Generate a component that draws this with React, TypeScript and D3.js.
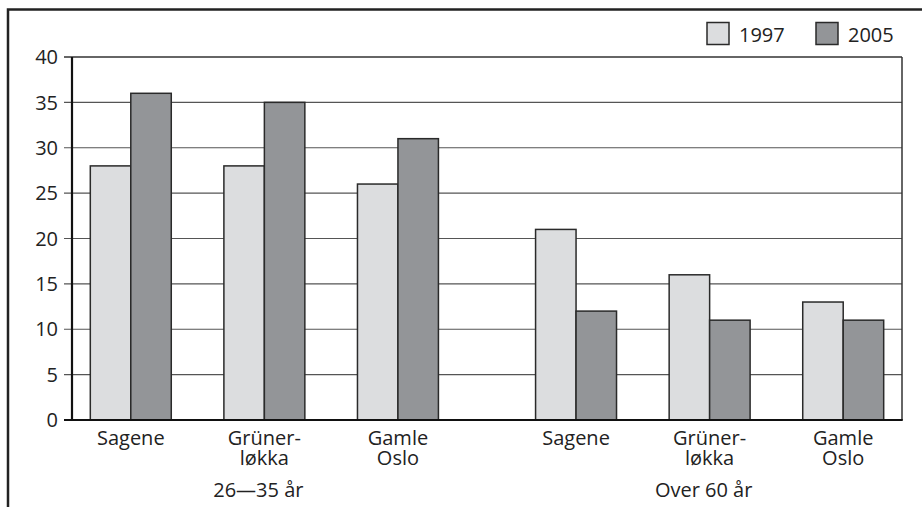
import React, { useRef, useEffect } from 'react'
import * as d3 from 'd3'

const groups = ['26\u201435 år', 'Over 60 år']
const districts = ['Sagene', 'Grüner-\nløkka', 'Gamle\nOslo']
const years = ['1997', '2005']
const values1997 = [28, 28, 26, 21, 16, 13]
const values2005 = [36, 35, 31, 12, 11, 11]
const yTicks = [0, 5, 10, 15, 20, 25, 30, 35, 40]

const colors = ['#dcdddf', '#939598']
const font = '"Open Sans", "DejaVu Sans", sans-serif'

const App = () => {
    const svgRef = useRef(null)

    useEffect(() => {
        const w = 922
        const h = 507
        const left = 72
        const right = 902
        const top = 57
        const bottom = 420

        const svg = d3.select(svgRef.current)
            .attr('width', w)
            .attr('height', h)
        svg.selectAll('*').remove()

        // frame round the whole figure (cut off at right and bottom)
        svg.append('rect')
            .attr('x', 8).attr('y', 9.5)
            .attr('width', w + 20).attr('height', h + 20)
            .attr('fill', 'white')
            .attr('stroke', '#222')
            .attr('stroke-width', 2.5)

        // scales
        const yScale = d3.scaleLinear().domain([0, 40]).range([bottom, top])
        const x0 = d3.scaleBand().domain(groups).range([64, 910]).paddingInner(0.1)
        const x1 = d3.scaleBand().domain(districts).range([0, x0.bandwidth()])
        const x2 = d3.scaleBand().domain(years).range([0, x1.bandwidth()]).paddingOuter(0.65)

        // grid lines
        svg.append('g')
            .selectAll('line')
            .data(yTicks.filter(t => t > 0))
            .join('line')
            .attr('x1', left - 8).attr('x2', right)
            .attr('y1', d => yScale(d)).attr('y2', d => yScale(d))
            .attr('stroke', d => d === 40 ? '#333' : '#555')
            .attr('stroke-width', d => d === 40 ? 1.5 : 1.2)

        // right edge of plot
        svg.append('line')
            .attr('x1', right).attr('x2', right)
            .attr('y1', top).attr('y2', bottom)
            .attr('stroke', '#333').attr('stroke-width', 1.5)

        // y tick labels
        svg.append('g')
            .selectAll('text')
            .data(yTicks)
            .join('text')
            .attr('x', left - 14)
            .attr('y', d => yScale(d))
            .attr('dy', '0.36em')
            .attr('text-anchor', 'end')
            .style('font-family', font)
            .style('font-size', '20px')
            .attr('fill', '#222')
            .text(d => d)

        // bars
        const rows = []
        groups.forEach((g, gi) => {
            districts.forEach((d, di) => {
                const i = gi * districts.length + di
                rows.push({ g, d, year: '1997', v: values1997[i], c: colors[0] })
                rows.push({ g, d, year: '2005', v: values2005[i], c: colors[1] })
            })
        })
        svg.append('g')
            .selectAll('rect')
            .data(rows)
            .join('rect')
            .attr('x', r => x0(r.g) + x1(r.d) + x2(r.year))
            .attr('y', r => yScale(r.v))
            .attr('width', x2.bandwidth())
            .attr('height', r => yScale(0) - yScale(r.v))
            .attr('fill', r => r.c)
            .attr('stroke', '#2a2a2a')
            .attr('stroke-width', 1.5)

        // axes lines
        svg.append('line')
            .attr('x1', left).attr('x2', left)
            .attr('y1', top).attr('y2', bottom)
            .attr('stroke', '#111').attr('stroke-width', 2.2)
        svg.append('line')
            .attr('x1', left - 8).attr('x2', right + 0.75)
            .attr('y1', bottom).attr('y2', bottom)
            .attr('stroke', '#111').attr('stroke-width', 2)

        // category labels
        groups.forEach(g => {
            districts.forEach(d => {
                const cx = x0(g) + x1(d) + x1.bandwidth() / 2
                const t = svg.append('text')
                    .attr('text-anchor', 'middle')
                    .style('font-family', font)
                    .style('font-size', '20px')
                    .attr('fill', '#222')
                d.split('\n').forEach((line, li) => {
                    t.append('tspan')
                        .attr('x', cx)
                        .attr('y', 445 + li * 20)
                        .text(line)
                })
            })
            svg.append('text')
                .attr('x', x0(g) + x0.bandwidth() / 2 - 6)
                .attr('y', 497)
                .attr('text-anchor', 'middle')
                .style('font-family', font)
                .style('font-size', '20px')
                .attr('fill', '#222')
                .text(g)
        })

        // legend
        const legendX = [707, 816]
        years.forEach((y, i) => {
            svg.append('rect')
                .attr('x', legendX[i]).attr('y', 22.5)
                .attr('width', 22).attr('height', 22)
                .attr('fill', colors[i])
                .attr('stroke', '#2a2a2a')
                .attr('stroke-width', 1.5)
            svg.append('text')
                .attr('x', legendX[i] + 32)
                .attr('y', 42)
                .style('font-family', font)
                .style('font-size', '20px')
                .attr('fill', '#222')
                .text(y)
        })
    }, [])

    return (
        <div style={{ position: 'absolute', left: 0, top: 0 }}>
            <svg ref={svgRef} style={{ display: 'block' }}></svg>
        </div>
    )
}

export default App
